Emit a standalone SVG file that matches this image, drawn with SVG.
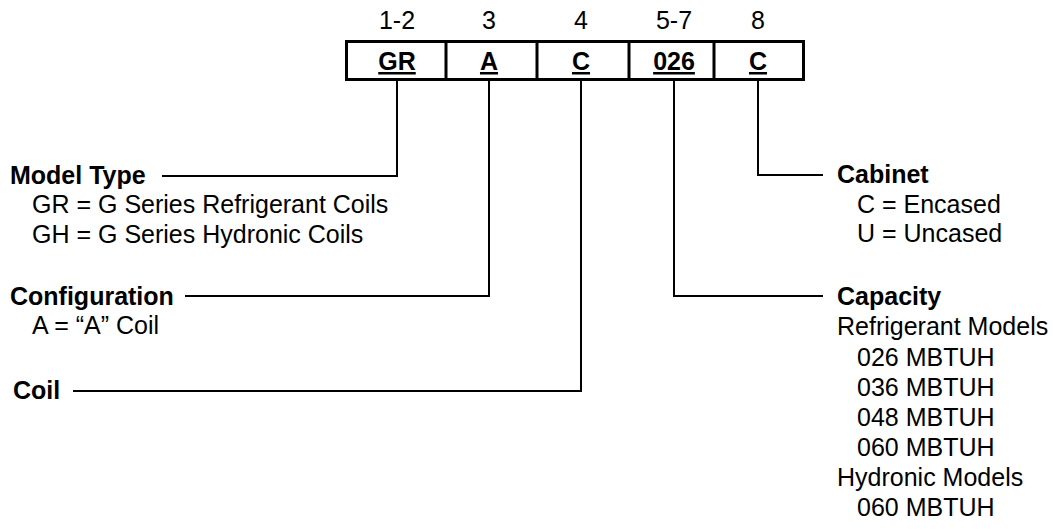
<svg xmlns="http://www.w3.org/2000/svg" width="1053" height="529" viewBox="0 0 1053 529">
<style>
text{font-family:"Liberation Sans",Arial,sans-serif;font-size:25px;fill:#000}
.b{font-weight:bold}
.m{text-anchor:middle}
.u{text-decoration:underline}
.c{fill:none;stroke:#000;stroke-width:2}
</style>
<rect width="1053" height="529" fill="#fff"/>
<g id="code-box">
<rect x="346.5" y="41.5" width="457" height="38" fill="#fff" stroke="#000" stroke-width="3"/>
<path d="M446 41V80M537 41V80M629 41V80M714 41V80" stroke="#000" stroke-width="3"/>
<text class="m" x="397" y="29">1-2</text>
<text class="m" x="489" y="29">3</text>
<text class="m" x="581" y="29">4</text>
<text class="m" x="674" y="29">5-7</text>
<text class="m" x="758" y="29">8</text>
<text class="b m u" x="397" y="70">GR</text>
<text class="b m u" x="489" y="70">A</text>
<text class="b m u" x="581" y="70">C</text>
<text class="b m u" x="674" y="70">026</text>
<text class="b m u" x="758" y="70">C</text>
</g>
<g id="connectors">
<path class="c" d="M397 81V176H162"/>
<path class="c" d="M489 81V296H185"/>
<path class="c" d="M581 81V391H73"/>
<path class="c" d="M674 81V296H823"/>
<path class="c" d="M758 81V175H823"/>
</g>
<g id="model-type">
<text class="b" x="10" y="184">Model Type</text>
<text x="32" y="213">GR = G Series Refrigerant Coils</text>
<text x="32" y="243">GH = G Series Hydronic Coils</text>
</g>
<g id="configuration">
<text class="b" x="10" y="305">Configuration</text>
<text x="32" y="334">A = “A” Coil</text>
</g>
<g id="coil">
<text class="b" x="13" y="399">Coil</text>
</g>
<g id="cabinet">
<text class="b" x="837" y="183">Cabinet</text>
<text x="857" y="213">C = Encased</text>
<text x="857" y="242">U = Uncased</text>
</g>
<g id="capacity">
<text class="b" x="837" y="305">Capacity</text>
<text x="837" y="335">Refrigerant Models</text>
<text x="857" y="366">026 MBTUH</text>
<text x="857" y="396">036 MBTUH</text>
<text x="857" y="426">048 MBTUH</text>
<text x="857" y="456">060 MBTUH</text>
<text x="837" y="486">Hydronic Models</text>
<text x="857" y="516">060 MBTUH</text>
</g>
</svg>
